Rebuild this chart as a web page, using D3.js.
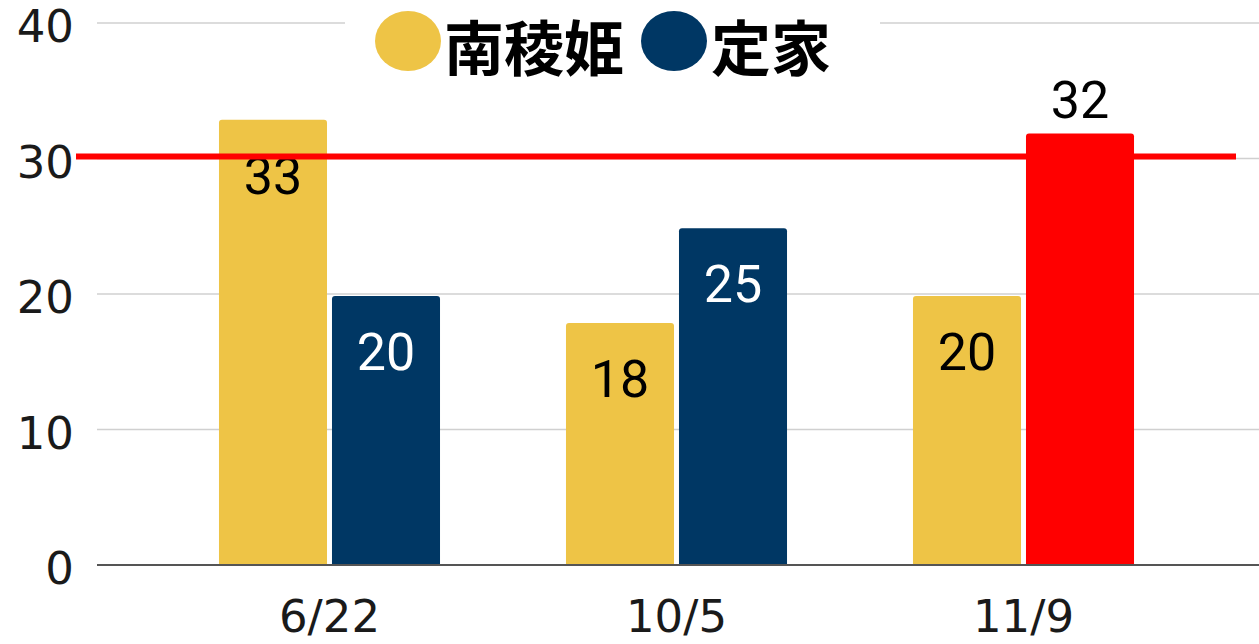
<!DOCTYPE html>
<html>
<head>
<meta charset="utf-8">
<script src="https://cdn.jsdelivr.net/npm/d3@7"></script>
<style>
  body { margin: 0; background: #fff; }
  svg { display: block; }
</style>
</head>
<body>
<div id="chart"></div>
<script>
const dates = ["6/22", "10/5", "11/9"];
const seriesNames = ["南稜姫", "定家"];
const nanryohime = [33, 18, 20];
const teika = [20, 25, 32];
const yTicks = [0, 10, 20, 30, 40];
const thresholdValue = 30.15;

const width = 1259, height = 644;
const svg = d3.select("#chart").append("svg")
    .attr("width", width)
    .attr("height", height);

const colors = { "南稜姫": "#eec446", "定家": "#003764" };
const highlight = "#ff0000";

const y = d3.scaleLinear().domain([0, 40]).range([565, 23]);

const x0 = d3.scaleBand()
    .domain(dates)
    .range([156, 1197])
    .paddingInner(0.363)
    .paddingOuter(0.1815);

const x1 = d3.scaleBand()
    .domain(seriesNames)
    .range([0, x0.bandwidth()])
    .paddingInner(0.044);

const rows = dates.map((d, i) => ({
  date: d,
  values: [
    { name: "南稜姫", value: nanryohime[i] },
    { name: "定家", value: teika[i] }
  ]
}));

// gridlines
svg.append("g")
  .selectAll("line")
  .data(yTicks.filter(t => t > 0))
  .join("line")
    .attr("x1", 97).attr("x2", 1259)
    .attr("y1", d => y(d)).attr("y2", d => y(d))
    .attr("stroke", "#d0d0d0")
    .attr("stroke-width", 1.5);

// y tick labels
svg.append("g")
  .selectAll("text")
  .data(yTicks)
  .join("text")
    .attr("x", 74)
    .attr("y", d => y(d) + 19)
    .attr("text-anchor", "end")
    .style("font-family", "'DejaVu Sans', sans-serif")
    .style("font-size", "45px")
    .attr("fill", "#1a1a1a")
    .text(d => d);

// bars
const groups = svg.append("g")
  .selectAll("g")
  .data(rows)
  .join("g")
    .attr("transform", d => `translate(${x0(d.date)},0)`);

groups.selectAll("path")
  .data(d => d.values.map(v => ({ ...v, date: d.date })))
  .join("path")
    .attr("d", d => {
      const bx = x1(d.name), bw = x1.bandwidth(), top = y(d.value) + 2, bot = y(0), r = 3;
      return `M${bx},${bot}V${top + r}Q${bx},${top} ${bx + r},${top}H${bx + bw - r}Q${bx + bw},${top} ${bx + bw},${top + r}V${bot}Z`;
    })
    .attr("fill", d => (d.name === "定家" && d.date === "11/9") ? highlight : colors[d.name]);

// baseline
svg.append("line")
  .attr("x1", 97).attr("x2", 1259)
  .attr("y1", y(0)).attr("y2", y(0))
  .attr("stroke", "#555")
  .attr("stroke-width", 2);

// threshold line
svg.append("line")
  .attr("x1", 76).attr("x2", 1236)
  .attr("y1", y(thresholdValue)).attr("y2", y(thresholdValue))
  .attr("stroke", highlight)
  .attr("stroke-width", 6);

// value labels
groups.selectAll("text")
  .data(d => d.values.map(v => ({ ...v, date: d.date })))
  .join("text")
    .attr("x", d => x1(d.name) + x1.bandwidth() / 2)
    .attr("y", d => {
      const outside = d.name === "定家" && d.date === "11/9";
      return outside ? y(d.value) - 13 : y(d.value) + 76;
    })
    .attr("text-anchor", "middle")
    .style("font-family", "Roboto, sans-serif")
    .style("font-size", "52px")
    .attr("fill", d => (d.name === "定家" && !(d.date === "11/9")) ? "#fff" : "#000")
    .text(d => d.value);

// x labels
svg.append("g")
  .selectAll("text")
  .data(dates)
  .join("text")
    .attr("x", d => x0(d) + x0.bandwidth() / 2)
    .attr("y", 632)
    .attr("text-anchor", "middle")
    .style("font-family", "'DejaVu Sans', sans-serif")
    .style("font-size", "45px")
    .attr("fill", "#1a1a1a")
    .text(d => d);

// legend
const legend = svg.append("g");
legend.append("rect")
  .attr("x", 345).attr("y", 0)
  .attr("width", 535).attr("height", 80)
  .attr("fill", "#fff");

const legendItems = [
  { name: "南稜姫", cx: 408, tx: 444 },
  { name: "定家", cx: 674, tx: 711 }
];
legendItems.forEach(item => {
  legend.append("ellipse")
    .attr("cx", item.cx).attr("cy", 41)
    .attr("rx", 33).attr("ry", 30)
    .attr("fill", colors[item.name]);
  legend.append("text")
    .attr("x", item.tx).attr("y", 44)
    .attr("dominant-baseline", "central")
    .style("font-family", "'Noto Sans CJK JP', sans-serif")
    .style("font-weight", "bold")
    .style("font-size", "60px")
    .attr("fill", "#000")
    .text(item.name);
});
</script>
</body>
</html>
